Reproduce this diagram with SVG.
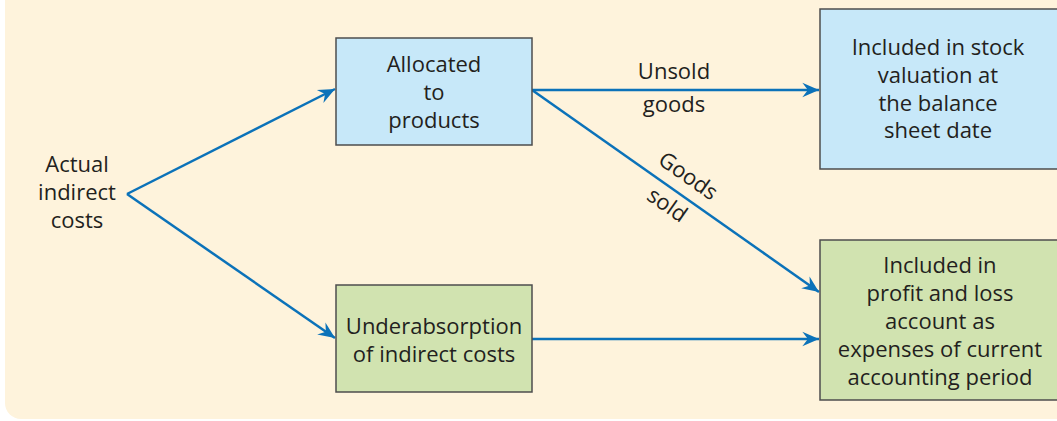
<svg xmlns="http://www.w3.org/2000/svg" width="1057" height="421" viewBox="0 0 1057 421">
<defs>
<style>
.t{font-family:"Open Sans","Noto Sans",sans-serif;font-size:22px;fill:#231f20;text-anchor:middle}
.blue{fill:#c7e8f9;stroke:#4d4d4d;stroke-width:1.5}
.green{fill:#d1e3b0;stroke:#4d4d4d;stroke-width:1.5}
.c{fill:none;stroke:#0b72b9;stroke-width:2.5}
</style>
<marker id="ah" markerUnits="userSpaceOnUse" markerWidth="20" markerHeight="20" viewBox="-16 -8 18 16" refX="0" refY="0" orient="auto">
<path d="M0,0 L-15,-6.5 L-10,0 L-15,6.5 Z" fill="#0b72b9"/>
</marker>
</defs>
<rect x="5" y="-30" width="1100" height="449" rx="16" fill="#fef3dc"/>
<g id="connectors">
<line class="c" x1="127" y1="194" x2="335" y2="89" marker-end="url(#ah)"/>
<line class="c" x1="127" y1="194" x2="335" y2="338" marker-end="url(#ah)"/>
<line class="c" x1="532" y1="90" x2="819" y2="90" marker-end="url(#ah)"/>
<line class="c" x1="532" y1="90" x2="819" y2="292" marker-end="url(#ah)"/>
<line class="c" x1="532" y1="339" x2="819" y2="339" marker-end="url(#ah)"/>
<text class="t" x="674" y="79">Unsold</text>
<text class="t" x="674" y="112">goods</text>
<text class="t" transform="translate(684,182) rotate(35)">Goods</text>
<text class="t" transform="translate(663,211) rotate(35)">sold</text>
</g>
<g id="actual">
<text class="t" x="77" y="172">Actual</text>
<text class="t" x="77" y="200">indirect</text>
<text class="t" x="77" y="228">costs</text>
</g>
<g id="allocated">
<rect class="blue" x="336" y="38" width="196" height="107"/>
<text class="t" x="434" y="72">Allocated</text>
<text class="t" x="434" y="100">to</text>
<text class="t" x="434" y="128">products</text>
</g>
<g id="under">
<rect class="green" x="336" y="285" width="196" height="107"/>
<text class="t" x="434" y="334">Underabsorption</text>
<text class="t" x="434" y="362">of indirect costs</text>
</g>
<g id="stock">
<rect class="blue" x="820" y="9" width="260" height="160"/>
<text class="t" x="938" y="55">Included in stock</text>
<text class="t" x="938" y="83">valuation at</text>
<text class="t" x="938" y="111">the balance</text>
<text class="t" x="938" y="138">sheet date</text>
</g>
<g id="pl">
<rect class="green" x="820" y="240" width="260" height="160"/>
<text class="t" x="940" y="273">Included in</text>
<text class="t" x="940" y="301">profit and loss</text>
<text class="t" x="940" y="329">account as</text>
<text class="t" x="940" y="357">expenses of current</text>
<text class="t" x="940" y="385">accounting period</text>
</g>
</svg>
